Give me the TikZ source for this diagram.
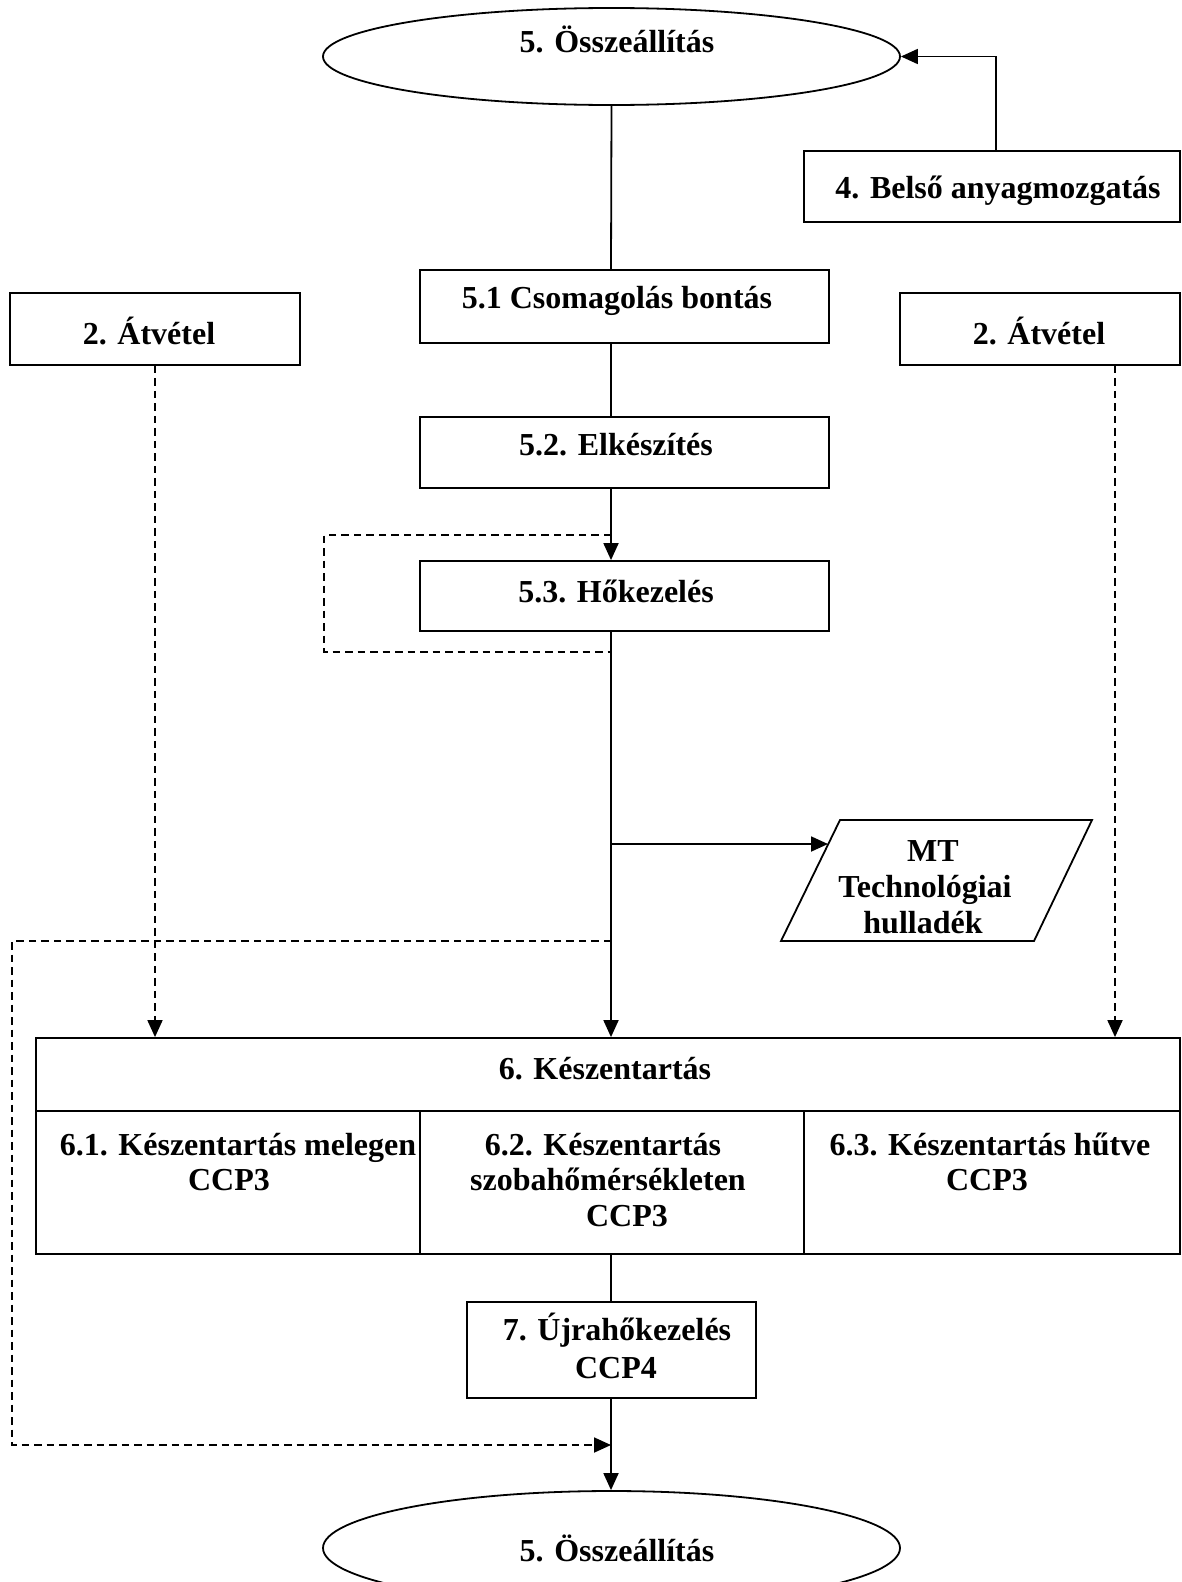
\documentclass[tikz,border=0pt]{standalone}
\usepackage{fontspec}
\setmainfont{Liberation Serif}
\usetikzlibrary{arrows.meta,shapes.geometric}
\begin{document}
\begin{tikzpicture}[x=1pt,y=-1pt,
  box/.style={draw, line width=1.8pt, rectangle, inner sep=0pt},
  oval/.style={draw, line width=1.8pt, ellipse, inner sep=0pt},
  txt/.style={font=\fontsize{32}{36}\selectfont\bfseries, inner sep=0pt, anchor=base},
  ln/.style={line width=1.8pt},
  arr/.style={line width=1.8pt, -{Triangle[length=17pt,width=15pt]}},
  dsh/.style={line width=1.8pt, dash pattern=on 7.5pt off 5pt},
  dsharr/.style={dsh, -{Triangle[length=17pt,width=15pt]}}
]
\useasboundingbox (0,0) rectangle (1181,1582);
\fill[white] (0,0) rectangle (1181,1582);

% shapes
\node[oval, minimum width=577pt, minimum height=97pt] (top) at (611.5,56.5) {};
\node[box, minimum width=376pt, minimum height=71pt] (bel) at (992,186.5) {};
\node[box, minimum width=409pt, minimum height=73pt] (c51) at (624.5,306.5) {};
\node[box, minimum width=290pt, minimum height=72pt] (atl) at (155,329) {};
\node[box, minimum width=280pt, minimum height=72pt] (atr) at (1040,329) {};
\node[box, minimum width=409pt, minimum height=71pt] (e52) at (624.5,452.5) {};
\node[box, minimum width=409pt, minimum height=70pt] (h53) at (624.5,596) {};
\node[box, minimum width=1144pt, minimum height=73pt] (k6) at (608,1074.5) {};
\node[box, minimum width=384pt, minimum height=143pt] (k61) at (228,1182.5) {};
\node[box, minimum width=384pt, minimum height=143pt] (k62) at (612,1182.5) {};
\node[box, minimum width=376pt, minimum height=143pt] (k63) at (992,1182.5) {};
\node[box, minimum width=289pt, minimum height=96pt] (u7) at (611.5,1350) {};
\node[oval, minimum width=577pt, minimum height=114pt] (bot) at (611.5,1548) {};
\draw[ln] (840,820) -- (1092,820) -- (1034,941) -- (781,941) -- cycle;

% texts
\node[txt] (t5a) at (617,52) {5. Összeállítás};
\node[txt] (t4) at (998,198) {4. Belső anyagmozgatás};
\node[txt] (t51) at (617,308) {5.1 Csomagolás bontás};
\node[txt] (t2l) at (149,344) {2. Átvétel};
\node[txt] (t2r) at (1039,344) {2. Átvétel};
\node[txt] (t52) at (616,455.5) {5.2. Elkészítés};
\node[txt] (t53) at (616,602.5) {5.3. Hőkezelés};
\node[txt] (tmt1) at (933,861) {MT};
\node[txt] (tmt2) at (925,897) {Technológiai};
\node[txt] (tmt3) at (923,933) {hulladék};
\node[txt] (t6) at (605,1079.5) {6. Készentartás};
\node[txt] (t61a) at (238,1155) {6.1. Készentartás melegen};
\node[txt] (t61b) at (229,1190.5) {CCP3};
\node[txt] (t62a) at (603,1155) {6.2. Készentartás};
\node[txt] (t62b) at (608,1190.5) {szobahőmérsékleten};
\node[txt] (t62c) at (627,1226.5) {CCP3};
\node[txt] (t63a) at (990,1155) {6.3. Készentartás hűtve};
\node[txt] (t63b) at (987,1190.5) {CCP3};
\node[txt] (t7a) at (617,1340) {7. Újrahőkezelés};
\node[txt] (t7b) at (616,1378) {CCP4};
\node[txt] (t5b) at (617,1561) {5. Összeállítás};

% helper coordinates
\coordinate (mx) at (611,0);
\coordinate (bx) at (996,0);
\coordinate (rx) at (1115,0);
\coordinate (loopA) at (611,535);
\coordinate (loopB) at (611,652);
\coordinate (loopL) at (324,0);
\coordinate (br) at (611,844);
\coordinate (mtin) at (828,844);
\coordinate (dA) at (611,941);
\coordinate (dB) at (611,1445);
\coordinate (dL) at (12,0);

% connectors
\draw[arr] (bel.north -| bx) |- (top.east);
\draw[ln] (top.south) -- (mx |- c51.north);
\draw[ln] (mx |- c51.south) -- (mx |- e52.north);
\draw[arr] (mx |- e52.south) -- (mx |- h53.north);
\draw[dsh] (loopA) -| (loopL |- loopB) -- (loopB);
\draw[arr] (mx |- h53.south) -- (mx |- k6.north);
\draw[arr] (br) -- (mtin);
\draw[dsharr] (dA) -| (dL |- dB) -- (dB);
\draw[dsharr] (atl.south) -- (atl.south |- k6.north);
\draw[dsharr] (rx |- atr.south) -- (rx |- k6.north);
\draw[ln] (mx |- k62.south) -- (mx |- u7.north);
\draw[arr] (mx |- u7.south) -- (mx |- bot.north);
\end{tikzpicture}
\end{document}
